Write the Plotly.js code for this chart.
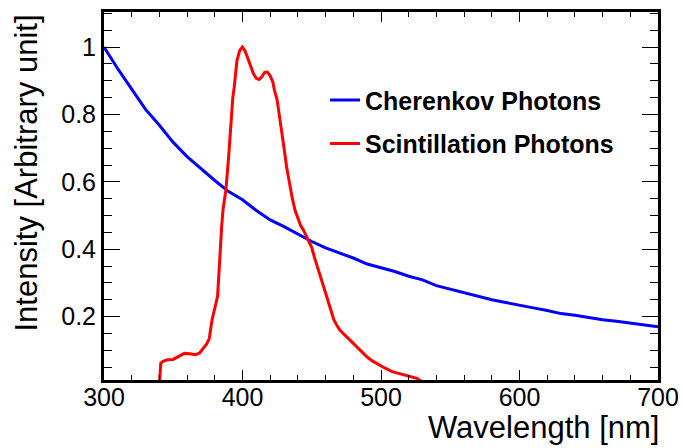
<!DOCTYPE html>
<html>
<head>
<meta charset="utf-8">
<script src="https://cdn.plot.ly/plotly-3.0.1.min.js"></script>
<style>html,body{margin:0;padding:0;background:#fff;}#chart{width:684px;height:448px;}</style>
</head>
<body>
<div id="chart"></div>
<script>
// Cherenkov photon spectrum (wavelength nm, intensity)
var cherWl = [300,310,320,330,340,350,360,370,380,390,400,410,420,430,440,450,460,470,480,490,500,510,520,530,540,550,560,570,580,590,600,610,620,630,640,650,660,670,680,690,700];
var cherVal = [1.0,0.935,0.875,0.815,0.768,0.717,0.675,0.639,0.604,0.571,0.547,0.515,0.487,0.467,0.445,0.423,0.404,0.389,0.374,0.356,0.345,0.334,0.320,0.309,0.292,0.281,0.271,0.260,0.250,0.242,0.235,0.226,0.218,0.209,0.204,0.197,0.191,0.186,0.181,0.176,0.170];

// Scintillation photon spectrum
var scintWl = [300,339,340,341,343,346,350,354,358,362,366,369,372,374,376,377,378,380,382,383,384,385,386,388,390,391,392,393,394,395,396,398,400,402,404,406,408,410,412,414,416,418,420,422,423,425,427,428.5,430,432,434,436,438,440,442,444,446,448,450,452,454,456,458,460,463,466,468,470,474,478,482,486,490,494,498,503,508,513,518,522,526,528,530,700];
var scintVal = [0,0,0,0.062,0.068,0.072,0.073,0.082,0.091,0.090,0.087,0.092,0.106,0.118,0.135,0.16,0.19,0.225,0.26,0.33,0.41,0.47,0.52,0.575,0.675,0.745,0.80,0.85,0.88,0.925,0.96,0.99,1.0,0.987,0.965,0.94,0.92,0.907,0.904,0.912,0.925,0.926,0.915,0.895,0.873,0.843,0.79,0.74,0.70,0.64,0.59,0.55,0.515,0.49,0.47,0.457,0.44,0.425,0.405,0.375,0.35,0.32,0.295,0.27,0.23,0.19,0.175,0.162,0.145,0.128,0.112,0.095,0.08,0.068,0.058,0.047,0.037,0.031,0.027,0.022,0.017,0.012,0,0];

var seriesNames = ['Cherenkov Photons', 'Scintillation Photons'];
var yTickVals = [0.2, 0.4, 0.6, 0.8, 1];
var yTickText = ['0.2', '0.4', '0.6', '0.8', '1'];
var xTitle = 'Wavelength [nm]';
var yTitle = 'Intensity [Arbitrary unit]';

var font = 'Liberation Sans, Arial, sans-serif';

var traces = [
  {x: cherWl, y: cherVal, type: 'scatter', mode: 'lines', name: seriesNames[0], legendgroup: 'a',
   line: {color: '#0000ff', width: 3}},
  {x: scintWl, y: scintVal, type: 'scatter', mode: 'lines', name: seriesNames[1], legendgroup: 'b',
   line: {color: '#ff0000', width: 3}}
];

var axisCommon = {
  showline: true, linecolor: '#000', linewidth: 3, mirror: 'allticks',
  ticks: 'inside', tickcolor: '#000', tickwidth: 1,
  showgrid: false, zeroline: false,
  tickfont: {family: font, size: 25, color: '#000'}
};

var layout = {
  width: 684, height: 448,
  margin: {l: 104, r: 26, t: 12, b: 68},
  paper_bgcolor: '#fff', plot_bgcolor: '#fff',
  showlegend: true,
  legend: {x: 0.399, y: 0.823, xanchor: 'left', yanchor: 'top', bgcolor: 'rgba(0,0,0,0)',
           font: {family: font, size: 25, color: '#000', weight: 'bold'}, tracegroupgap: 8},
  xaxis: Object.assign({}, axisCommon, {
    range: [300, 700], tick0: 300, dtick: 100, ticklen: 10, ticklabelstandoff: -7,
    minor: {dtick: 20, ticklen: 5, ticks: 'inside', tickcolor: '#000', tickwidth: 1, showgrid: false}
  }),
  yaxis: Object.assign({}, axisCommon, {
    range: [0.012, 1.104], tickmode: 'array', tickvals: yTickVals, ticktext: yTickText, ticklen: 16,
    minor: {dtick: 0.05, tick0: 0, ticklen: 8, ticks: 'inside', tickcolor: '#000', tickwidth: 1, showgrid: false}
  }),
  annotations: [
    {text: xTitle, xref: 'paper', yref: 'paper', x: 1, y: -0.130, xanchor: 'right', yanchor: 'middle', xshift: 3,
     showarrow: false, font: {family: font, size: 31, color: '#000'}},
    {text: yTitle, xref: 'paper', yref: 'paper', x: -0.139, y: 1, xanchor: 'center', yanchor: 'top',
     textangle: -90, showarrow: false, font: {family: font, size: 31, color: '#000'}}
  ]
};

Plotly.newPlot('chart', traces, layout, {staticPlot: true, displayModeBar: false});
</script>
</body>
</html>
